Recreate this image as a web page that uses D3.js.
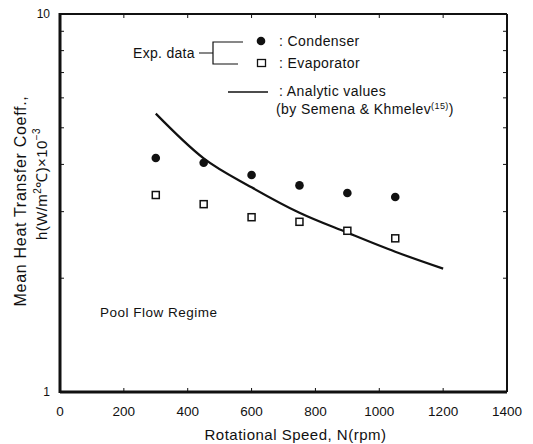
<!DOCTYPE html>
<html>
<head>
  <title>Mean heat transfer coefficient vs rotational speed</title>
  <script src="https://d3js.org/d3.v7.min.js"></script>
  <style>
    body { margin: 0; background: #fff; }
    text { font-family: "Liberation Sans", Arial, sans-serif; fill: #111; }
  </style>
</head>
<body>
  <div id="chart"></div>

  <script>
    // data
    const speeds = [300, 450, 600, 750, 900, 1050];
    const condenser = [4.16, 4.04, 3.75, 3.52, 3.36, 3.28];
    const evaporator = [3.32, 3.14, 2.90, 2.82, 2.67, 2.55];
    const analyticSpeeds = [300, 450, 600, 750, 900, 1050, 1200];
    const analyticValues = [5.45, 4.15, 3.48, 2.98, 2.64, 2.35, 2.12];
    const xTicks = [0, 200, 400, 600, 800, 1000, 1200, 1400];
    const yTicks = [1, 10];
    const yMinor = [2, 3, 4, 5, 6, 7, 8, 9];

    const W = 533, H = 444;
    const pl = 60, pr = 507, pt = 14, pb = 392;

    const svg = d3.select("#chart").append("svg").attr("width", W).attr("height", H);

    const x = d3.scaleLinear().domain([0, 1400]).range([pl, pr]);
    const y = d3.scaleLog().domain([1, 10]).range([pb, pt]);

    // minor ticks inside the frame
    const g = svg.append("g").attr("stroke", "#111").attr("stroke-width", 1);
    yMinor.forEach(v => {
      g.append("line").attr("x1", pl).attr("x2", pl + 4).attr("y1", y(v)).attr("y2", y(v));
      g.append("line").attr("x1", pr).attr("x2", pr - 4).attr("y1", y(v)).attr("y2", y(v));
    });
    xTicks.slice(1, -1).forEach(v => {
      g.append("line").attr("x1", x(v)).attr("x2", x(v)).attr("y1", pb).attr("y2", pb - 4);
      g.append("line").attr("x1", x(v)).attr("x2", x(v)).attr("y1", pt).attr("y2", pt + 4);
    });

    // frame
    svg.append("line").attr("x1", pl).attr("x2", pr).attr("y1", pt).attr("y2", pt)
      .attr("stroke", "#111").attr("stroke-width", 2);
    svg.append("line").attr("x1", pr).attr("x2", pr).attr("y1", pt).attr("y2", pb)
      .attr("stroke", "#111").attr("stroke-width", 2);
    svg.append("line").attr("x1", pl).attr("x2", pr).attr("y1", pb).attr("y2", pb)
      .attr("stroke", "#111").attr("stroke-width", 3);
    svg.append("line").attr("x1", pl).attr("x2", pl).attr("y1", pt - 1).attr("y2", pb + 1)
      .attr("stroke", "#111").attr("stroke-width", 3);

    // tick labels
    svg.selectAll(".xt").data(xTicks).join("text")
      .attr("x", d => x(d)).attr("y", 416)
      .attr("text-anchor", "middle").attr("font-size", 13.5)
      .text(d => d);
    svg.selectAll(".yt").data(yTicks).join("text")
      .attr("x", 50).attr("y", d => y(d) + 4)
      .attr("text-anchor", "end").attr("font-size", 12)
      .text(d => d);

    // axis titles
    svg.append("text").attr("x", (pl + pr) / 2 + 12).attr("y", 440)
      .attr("text-anchor", "middle").attr("font-size", 15).attr("letter-spacing", 0.5)
      .text("Rotational Speed, N(rpm)");

    svg.append("text").attr("transform", "translate(26,201) rotate(-90)")
      .attr("text-anchor", "middle").attr("font-size", 16).attr("letter-spacing", 0.7)
      .text("Mean Heat Transfer Coeff.,");

    const yl = svg.append("text").attr("transform", "translate(47,184) rotate(-90)")
      .attr("text-anchor", "middle").attr("font-size", 15).attr("letter-spacing", 0.4);
    yl.append("tspan").text("h(W/m");
    yl.append("tspan").attr("dy", -6).attr("font-size", 10).text("2");
    yl.append("tspan").attr("dy", 6).text("\u2103)\u00d710");
    yl.append("tspan").attr("dy", -7).attr("font-size", 10).text("\u22123");

    // analytic line
    const line = d3.line()
      .x((d, i) => x(analyticSpeeds[i]))
      .y(d => y(d))
      .curve(d3.curveMonotoneX);
    svg.append("path").datum(analyticValues)
      .attr("fill", "none").attr("stroke", "#111").attr("stroke-width", 2.2)
      .attr("d", line);

    // experimental points
    svg.selectAll(".cond").data(condenser).join("circle")
      .attr("cx", (d, i) => x(speeds[i])).attr("cy", d => y(d))
      .attr("r", 4.3).attr("fill", "#111");
    svg.selectAll(".evap").data(evaporator).join("rect")
      .attr("x", (d, i) => x(speeds[i]) - 3.5).attr("y", d => y(d) - 3.5)
      .attr("width", 7).attr("height", 7)
      .attr("fill", "#fff").attr("stroke", "#111").attr("stroke-width", 1.5);

    // legend
    const lg = svg.append("g");
    lg.append("text").attr("x", 133).attr("y", 58).attr("font-size", 14).attr("letter-spacing", 0.3).text("Exp. data");
    lg.append("path")
      .attr("d", "M199,53H213 M243,42H213V64H238")
      .attr("fill", "none").attr("stroke", "#111").attr("stroke-width", 1.2);
    lg.append("circle").attr("cx", 261).attr("cy", 41).attr("r", 4.3).attr("fill", "#111");
    lg.append("rect").attr("x", 257.5).attr("y", 59.5).attr("width", 8).attr("height", 7)
      .attr("fill", "#fff").attr("stroke", "#111").attr("stroke-width", 1.3);
    lg.append("line").attr("x1", 228).attr("x2", 268).attr("y1", 92).attr("y2", 92)
      .attr("stroke", "#111").attr("stroke-width", 1.5);

    const lt = { "font-size": 14, "letter-spacing": 0.4 };
    lg.append("text").attr("x", 279).attr("y", 46).attr("font-size", 14).attr("letter-spacing", 0.4).text(": Condenser");
    lg.append("text").attr("x", 279).attr("y", 68).attr("font-size", 14).attr("letter-spacing", 0.4).text(": Evaporator");
    lg.append("text").attr("x", 279).attr("y", 96).attr("font-size", 14).attr("letter-spacing", 0.4).text(": Analytic values");
    const ref = lg.append("text").attr("x", 276).attr("y", 114).attr("font-size", 14).attr("letter-spacing", 0.4);
    ref.append("tspan").text("(by Semena & Khmelev");
    ref.append("tspan").attr("dy", -5).attr("font-size", 9).text("(15)");
    ref.append("tspan").attr("dy", 5).text(")");

    svg.append("text").attr("x", 100).attr("y", 317).attr("font-size", 13.5).attr("letter-spacing", 0.5)
      .text("Pool Flow Regime");
  </script>
</body>
</html>
